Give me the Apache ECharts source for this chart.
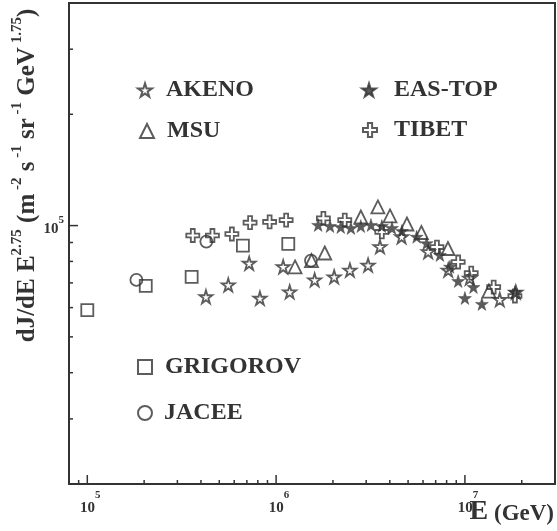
<!DOCTYPE html>
<html><head><meta charset="utf-8">
<script src="https://cdn.jsdelivr.net/npm/echarts@6/dist/echarts.min.js"></script>
<style>html,body{margin:0;padding:0;background:#fff}#c{width:557px;height:531px}</style>
</head><body><div id="c"></div>
<script>
// ---- data (E in GeV, flux dJ/dE * E^2.75) ----
const akenoE = [4.25e5, 5.58e5, 7.20e5, 8.21e5, 1.09e6, 1.18e6, 1.60e6, 2.03e6, 2.46e6, 3.07e6, 3.55e6, 4.62e6, 6.39e6, 8.16e6, 1.06e7, 1.53e7, 1.86e7];
const akenoF = [64200, 69100, 79100, 63600, 77400, 66200, 71300, 72700, 75800, 78200, 87700, 93300, 85000, 75800, 72100, 63100, 66100];

const easE = [1.67e6, 1.93e6, 2.20e6, 2.49e6, 2.81e6, 3.18e6, 3.63e6, 4.11e6, 4.64e6, 5.55e6, 6.27e6, 7.37e6, 8.33e6, 9.21e6, 1.00e7, 1.11e7, 1.23e7, 1.84e7];
const easF = [100400, 99700, 99100, 98500, 99700, 100400, 99700, 98500, 96700, 93300, 89600, 83300, 77400, 70800, 63700, 68200, 61400, 66100];

const msuE = [1.26e6, 1.54e6, 1.81e6, 2.81e6, 3.46e6, 4.01e6, 4.93e6, 5.88e6, 8.13e6, 1.34e7];
const msuF = [77300, 80400, 84300, 105500, 112300, 106200, 101000, 95800, 86700, 66500];

const tibetE = [3.62e5, 4.60e5, 5.83e5, 7.28e5, 9.24e5, 1.13e6, 1.78e6, 2.31e6, 3.63e6, 7.11e6, 9.21e6, 1.08e7, 1.42e7, 1.84e7];
const tibetF = [94000, 94000, 94900, 101800, 102300, 103500, 104600, 103500, 96100, 87500, 79700, 74400, 68200, 64500];

const grigE = [1.0e5, 2.04e5, 3.57e5, 6.67e5, 1.16e6];
const grigF = [59100, 68700, 72700, 88300, 89200];

const jaceeE = [1.82e5, 4.27e5, 1.53e6];
const jaceeF = [71300, 90500, 80400];

const X_MIN = 8e4, X_MAX = 3e7, Y_MIN = 2e4, Y_MAX = 4e5;
const xMajorTicks = [1e5, 1e6, 1e7];
const xMinorTicks = [9e4, 2e5, 3e5, 4e5, 5e5, 6e5, 7e5, 8e5, 9e5, 2e6, 3e6, 4e6, 5e6, 6e6, 7e6, 8e6, 9e6, 2e7];
const yMajorTicks = [1e5];
const yMinorTicks = [3e4, 4e4, 5e4, 6e4, 7e4, 8e4, 9e4, 2e5, 3e5];

// ---- styling ----
const INK = '#333';
const SERIF = '"Liberation Serif", "DejaVu Serif", serif';
const STAR = 'path://M50,0 L61,35 L98,35 L68,57 L79,91 L50,70 L21,91 L32,57 L2,35 L39,35 Z';
const PLUS = 'path://M35,0 H65 V35 H100 V65 H65 V100 H35 V65 H0 V35 H35 Z';

function pts(E, F) { return E.map((e, i) => [e, F[i]]); }
function hollow(name, E, F, symbol, size) {
  return { name, type: 'scatter', data: pts(E, F), symbol, symbolSize: size,
    itemStyle: { color: 'transparent', borderColor: INK, borderWidth: 1.8 }, z: 3 };
}
function xTicks(vals, len) {
  return { type: 'custom', silent: true, z: 5, clip: false,
    data: vals.map(v => [v, Y_MIN]),
    renderItem: function (params, api) {
      const x = api.coord([api.value(0), Y_MIN])[0];
      const cs = params.coordSys; const yb = cs.y + cs.height;
      return { type: 'line', shape: { x1: x, y1: yb, x2: x, y2: yb - len }, style: { stroke: INK, lineWidth: 1.5 } };
    } };
}
function yTicks(vals, len) {
  return { type: 'custom', silent: true, z: 5, clip: false,
    data: vals.map(v => [X_MIN, v]),
    renderItem: function (params, api) {
      const y = api.coord([X_MIN, api.value(1)])[1];
      const cs = params.coordSys; const xl = cs.x;
      return { type: 'line', shape: { x1: xl, y1: y, x2: xl + len, y2: y }, style: { stroke: INK, lineWidth: 1.5 } };
    } };
}
function legendAt(name, cx, cy, pad) {
  return { data: [name], left: cx - 7, top: cy - 12, padding: 0, itemWidth: 14, itemHeight: 14,
    selectedMode: false,
    textStyle: { fontFamily: SERIF, fontWeight: 'bold', fontSize: 24, color: INK, padding: [0, 0, 0, pad] } };
}

const chart = echarts.init(document.getElementById('c'), null, { renderer: 'canvas' });
chart.setOption({
  backgroundColor: '#fff',
  animation: false,
  grid: { left: 69, right: 2, top: 3, bottom: 47, containLabel: false, outerBoundsMode: 'none',
    show: true, borderColor: INK, borderWidth: 2, backgroundColor: 'transparent' },
  title: {
    text: '{e|E}{g| (GeV)}', right: -2, bottom: 0,
    textStyle: { rich: {
      e: { fontFamily: SERIF, fontWeight: 'bold', fontSize: 28, color: INK, verticalAlign: 'bottom', lineHeight: 28 },
      g: { fontFamily: SERIF, fontWeight: 'bold', fontSize: 23, color: INK, verticalAlign: 'bottom', lineHeight: 26 }
    } }
  },
  legend: [
    legendAt('AKENO', 144, 90, 9),
    legendAt('EAS-TOP', 368, 90, 13),
    legendAt('MSU', 146, 131, 8),
    legendAt('TIBET', 369, 130, 12),
    legendAt('GRIGOROV', 144, 367, 8),
    legendAt('JACEE', 144, 413, 7)
  ],
  xAxis: {
    type: 'log', min: X_MIN, max: X_MAX, logBase: 10,
    axisLine: { show: false }, axisTick: { show: false }, splitLine: { show: false },
    axisLabel: {
      customValues: xMajorTicks, margin: 6,
      formatter: v => '{b|10}{s|' + Math.round(Math.log10(v)) + '}',
      rich: {
        b: { fontFamily: SERIF, fontWeight: 'bold', fontSize: 15, color: INK, lineHeight: 26, verticalAlign: 'bottom', padding: [0, 0, 0, 6] },
        s: { fontFamily: SERIF, fontWeight: 'bold', fontSize: 11, color: INK, lineHeight: 6, verticalAlign: 'top' }
      }
    }
  },
  yAxis: {
    type: 'log', min: Y_MIN, max: Y_MAX, logBase: 10,
    axisLine: { show: false }, axisTick: { show: false }, splitLine: { show: false },
    axisLabel: {
      customValues: yMajorTicks, margin: 5,
      formatter: v => '{b|10}{s|' + Math.round(Math.log10(v)) + '}',
      rich: {
        b: { fontFamily: SERIF, fontWeight: 'bold', fontSize: 15, color: INK, lineHeight: 22, verticalAlign: 'bottom' },
        s: { fontFamily: SERIF, fontWeight: 'bold', fontSize: 11, color: INK, lineHeight: 4, verticalAlign: 'top' }
      }
    },
    name: '{a|dJ/dE E}{s|2.75}{a| (m}{s| -2}{a| s}{s| -1}{a| sr}{s| -1}{a| GeV}{s| 1.75}{a|)}',
    nameLocation: 'middle', nameRotate: 90, nameGap: 29, nameMoveOverlap: false,
    nameTextStyle: { padding: [0, 0, 0, 136], rich: {
      a: { fontFamily: SERIF, fontWeight: 'bold', fontSize: 25, color: INK, lineHeight: 30, verticalAlign: 'bottom' },
      s: { fontFamily: SERIF, fontWeight: 'bold', fontSize: 15, color: INK, lineHeight: 10, verticalAlign: 'top' }
    } }
  },
  series: [
    hollow('AKENO', akenoE, akenoF, STAR, 13),
    { name: 'EAS-TOP', type: 'scatter', data: pts(easE, easF), symbol: STAR, symbolSize: 13,
      itemStyle: { color: INK, borderColor: INK, borderWidth: 0.5 }, z: 4 },
    hollow('MSU', msuE, msuF, 'triangle', 13),
    hollow('TIBET', tibetE, tibetF, PLUS, 13),
    hollow('GRIGOROV', grigE, grigF, 'rect', 12),
    hollow('JACEE', jaceeE, jaceeF, 'circle', 12),
    xTicks(xMajorTicks, 9), xTicks(xMinorTicks, 4),
    yTicks(yMajorTicks, 9), yTicks(yMinorTicks, 4)
  ]
});
</script>
</body></html>
